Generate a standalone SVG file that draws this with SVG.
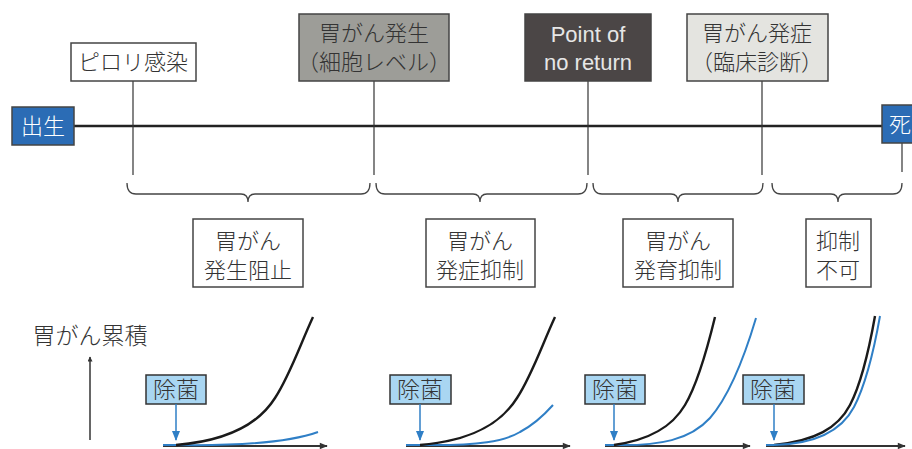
<svg xmlns="http://www.w3.org/2000/svg" width="912" height="449" viewBox="0 0 912 449">
<style>
text{font-family:"Noto Sans CJK JP","Noto Sans",sans-serif;text-anchor:middle;font-weight:300}
.lat{font-family:"Liberation Sans",Arial,sans-serif;font-weight:400}
.lbl{font-size:22px;fill:#333}
.box{stroke:#444;stroke-width:1.5}
.thin{stroke:#333;stroke-width:1.2;fill:none}
.brace{stroke:#444;stroke-width:1.3;fill:none}
.blk{stroke:#1a1a1a;stroke-width:2.4;fill:none}
.blu{stroke:#2f7fc6;stroke-width:2;fill:none}
.axis{stroke:#333;stroke-width:2;fill:none}
.bbox{fill:#a9d6f2;stroke:#333;stroke-width:1.5}
</style>
<defs>
<marker id="ah" viewBox="0 0 10 10" refX="9" refY="5" markerWidth="6" markerHeight="5" orient="auto" markerUnits="userSpaceOnUse">
<path d="M0,0 L10,5 L0,10 z" fill="#333"/>
</marker>
<marker id="ahAx" viewBox="0 0 10 10" refX="9" refY="5" markerWidth="16" markerHeight="8" orient="auto" markerUnits="userSpaceOnUse">
<path d="M0,1 L10,5 L0,9 z" fill="#333"/>
</marker>
<marker id="ahB" viewBox="0 0 10 10" refX="9" refY="5" markerWidth="12" markerHeight="10" orient="auto" markerUnits="userSpaceOnUse">
<path d="M0,1 L10,5 L0,9 z" fill="#2f7fc6"/>
</marker>
</defs>

<g id="connectors">
<line x1="74" y1="126" x2="883" y2="126" stroke="#222" stroke-width="2.4"/>
<line class="thin" x1="133" y1="81" x2="133" y2="175"/>
<line class="thin" x1="374" y1="81" x2="374" y2="175"/>
<line class="thin" x1="588" y1="81" x2="588" y2="175"/>
<line class="thin" x1="762" y1="81" x2="762" y2="175"/>
<line class="thin" x1="902" y1="143" x2="902" y2="172"/>
<path class="brace" d="M127,183 Q127,194 136,194 L241,194 Q248,194 248,202 Q248,194 255,194 L361,194 Q370,194 370,183"/>
<path class="brace" d="M376,183 Q376,194 385,194 L473,194 Q480,194 480,202 Q480,194 487,194 L578,194 Q587,194 587,183"/>
<path class="brace" d="M593,183 Q593,194 602,194 L671,194 Q678,194 678,202 Q678,194 685,194 L754,194 Q763,194 763,183"/>
<path class="brace" d="M772,183 Q772,194 781,194 L831,194 Q838,194 838,202 Q838,194 845,194 L893,194 Q902,194 902,183"/>
</g>

<g id="birth"><rect x="12" y="107" width="62" height="38" fill="#2b6cb5" class="box"/><text x="43" y="134" font-size="22" fill="#fff">出生</text></g>
<g id="death"><rect x="882" y="105" width="40" height="38" fill="#2b6cb5" class="box"/><text x="900" y="132" font-size="22" fill="#fff">死</text></g>
<g id="pylori"><rect x="71" y="43" width="125" height="38" fill="#fff" class="box"/><text class="lbl" x="133" y="70">ピロリ感染</text></g>
<g id="onset-cell"><rect x="299" y="14" width="150" height="67" fill="#9d9d98" class="box"/><text class="lbl" x="374" y="41">胃がん発生</text><text class="lbl" x="374" y="70">（細胞レベル）</text></g>
<g id="ponr"><rect x="525" y="14" width="126" height="67" fill="#4b4646" class="box"/><text class="lat" x="588" y="42" font-size="22" fill="#e6e6e6">Point of</text><text class="lat" x="588" y="70" font-size="22" fill="#e6e6e6">no return</text></g>
<g id="onset-clin"><rect x="687" y="14" width="141" height="67" fill="#e4e4e0" class="box"/><text class="lbl" x="757" y="41">胃がん発症</text><text class="lbl" x="757" y="70">（臨床診断）</text></g>

<g id="prevent"><rect x="193" y="219" width="110" height="68" fill="#fff" class="box"/><text class="lbl" x="248" y="249">胃がん</text><text class="lbl" x="248" y="278">発生阻止</text></g>
<g id="suppress-onset"><rect x="426" y="219" width="109" height="68" fill="#fff" class="box"/><text class="lbl" x="480" y="249">胃がん</text><text class="lbl" x="480" y="278">発症抑制</text></g>
<g id="suppress-growth"><rect x="623" y="219" width="110" height="68" fill="#fff" class="box"/><text class="lbl" x="678" y="249">胃がん</text><text class="lbl" x="678" y="278">発育抑制</text></g>
<g id="no-suppress"><rect x="806" y="219" width="65" height="68" fill="#fff" class="box"/><text class="lbl" x="838" y="249">抑制</text><text class="lbl" x="838" y="278">不可</text></g>

<g id="yaxis">
<text x="90" y="344" font-size="23" fill="#333">胃がん累積</text>
<line x1="90" y1="440" x2="90" y2="357" stroke="#333" stroke-width="1.5" marker-end="url(#ah)"/>
</g>

<g id="graph1">
<line class="axis" x1="163" y1="446" x2="327" y2="446" marker-end="url(#ahAx)"/>
<line class="blu" x1="163" y1="445" x2="180" y2="445" stroke-width="2.5"/>
<path class="blu" d="M176,445 C240,446 290,442 318,432"/>
<path class="blk" d="M176,445 C225,441 258,425 275,398 C290,375 300,345 313,317"/>
<rect class="bbox" x="146" y="375" width="60" height="29"/><text x="176" y="398" font-size="23" fill="#333">除菌</text>
<line stroke="#2f7fc6" stroke-width="1.5" x1="176" y1="404" x2="176" y2="440" marker-end="url(#ahB)"/>
</g>

<g id="graph2">
<line class="axis" x1="406" y1="446" x2="570" y2="446" marker-end="url(#ahAx)"/>
<line class="blu" x1="406" y1="445" x2="424" y2="445" stroke-width="2.5"/>
<path class="blu" d="M420,445 C480,446 505,441 520,432 C535,424 545,414 553,405"/>
<path class="blk" d="M420,445 C470,441 500,425 517,398 C532,375 542,345 555,317"/>
<rect class="bbox" x="390" y="375" width="61" height="29"/><text x="420" y="398" font-size="23" fill="#333">除菌</text>
<line stroke="#2f7fc6" stroke-width="1.5" x1="420" y1="404" x2="420" y2="440" marker-end="url(#ahB)"/>
</g>

<g id="graph3">
<line class="axis" x1="605" y1="446" x2="750" y2="446" marker-end="url(#ahAx)"/>
<line class="blu" x1="605" y1="445" x2="618" y2="445" stroke-width="2.5"/>
<path class="blu" d="M614,445 C660,446 690,440 710,418 C730,395 745,355 756,318"/>
<path class="blk" d="M614,445 C650,440 672,427 685,405 C698,383 707,350 715,317"/>
<rect class="bbox" x="585" y="375" width="60" height="29"/><text x="615" y="398" font-size="23" fill="#333">除菌</text>
<line stroke="#2f7fc6" stroke-width="1.5" x1="614" y1="404" x2="614" y2="440" marker-end="url(#ahB)"/>
</g>

<g id="graph4">
<line class="axis" x1="766" y1="446" x2="905" y2="446" marker-end="url(#ahAx)"/>
<line class="blu" x1="766" y1="445" x2="778" y2="445" stroke-width="2.5"/>
<path class="blk" d="M774,445 C815,441 838,428 850,405 C862,382 869,350 875,316"/>
<path class="blu" d="M774,445 C818,444 842,430 854,407 C866,384 874,350 880,316"/>
<rect class="bbox" x="743" y="375" width="61" height="29"/><text x="773" y="398" font-size="23" fill="#333">除菌</text>
<line stroke="#2f7fc6" stroke-width="1.5" x1="774" y1="404" x2="774" y2="440" marker-end="url(#ahB)"/>
</g>
</svg>
